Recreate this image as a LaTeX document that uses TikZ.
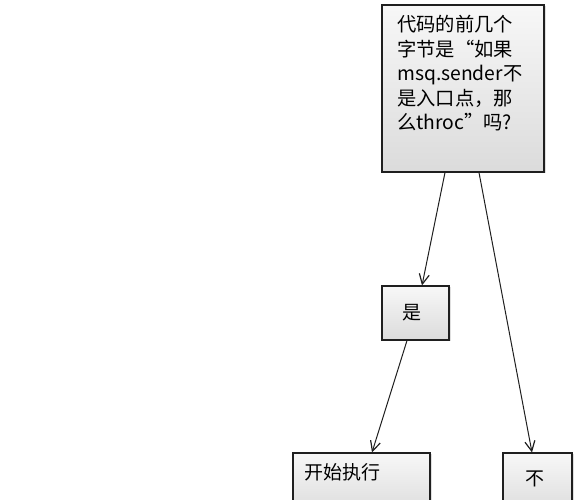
\documentclass[tikz,border=0pt]{standalone}
\usepackage{fontspec}
\setmainfont{Noto Sans CJK SC}
\usetikzlibrary{arrows.meta,shadows}
\definecolor{boxtop}{rgb}{0.97,0.97,0.97}
\definecolor{boxbottom}{rgb}{0.86,0.86,0.86}
\definecolor{linegray}{rgb}{0.12,0.12,0.12}

\begin{document}
\begin{tikzpicture}[x=1pt,y=1pt,
  card/.style={draw=linegray,line width=1.1pt,top color=boxtop,bottom color=boxbottom,
    drop shadow={shadow xshift=1.5pt,shadow yshift=-1.5pt,opacity=0.25},
    inner sep=0pt,font=\fontsize{19}{24.6}\selectfont},
  link/.style={draw=linegray,line width=1pt,-{Straight Barb[length=10pt,width=10pt,line width=1.2pt]}}]
\useasboundingbox (0,0) rectangle (584,500);
\node[card,minimum width=162pt,minimum height=167pt] (ask) at (463,411.5) {};
\node[anchor=north west,align=left,inner sep=0pt,font=\fontsize{19.3}{24.6}\selectfont] (asktext) at (397,485)
  {代码的前几个\\字节是“如果\\msq.sender不\\是入口点，那\\么throc”吗?};
\node[card,minimum width=67pt,minimum height=54pt] (yes) at (415.5,187) {};
\node[inner sep=0pt,font=\fontsize{19}{24.6}\selectfont] (yestext) at (412,187) {是};
\node[card,minimum width=137pt,minimum height=62pt] (run) at (361.5,16) {};
\node[anchor=west,inner sep=0pt,font=\fontsize{19}{24.6}\selectfont] (runtext) at (304,28) {开始执行};
\node[card,minimum width=69pt,minimum height=62pt] (no) at (537.5,16) {};
\node[inner sep=0pt,font=\fontsize{19}{24.6}\selectfont] (notext) at (535,21) {不};
%\draw[step=10pt,lightgray,very thin] (0,0) grid (584,500);
\draw[link] ([xshift=-18pt]ask.south) -- ([xshift=6.5pt]yes.north);
\draw[link] ([xshift=16pt]ask.south) -- ([xshift=-5.5pt]no.north);
\draw[link] ([xshift=-8.5pt]yes.south) -- ([xshift=10.5pt]run.north);
\end{tikzpicture}
\end{document}
